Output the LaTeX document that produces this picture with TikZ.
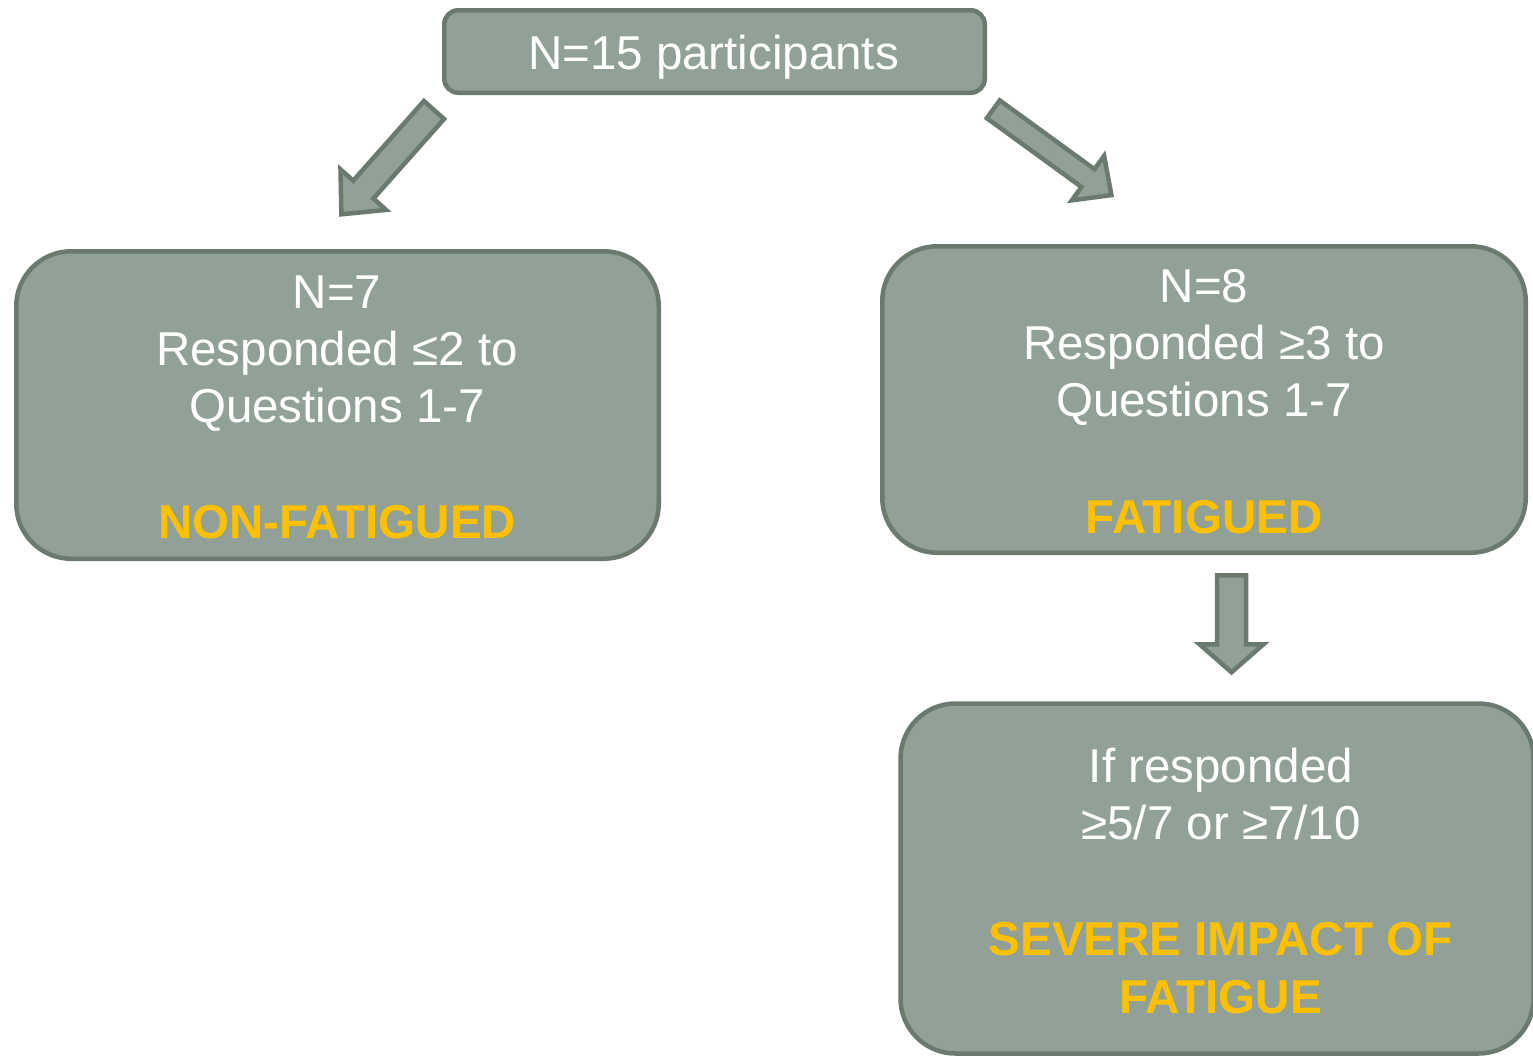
\documentclass[tikz,border=0pt]{standalone}
\usepackage{fontspec}
\setmainfont{Liberation Sans}
\definecolor{boxfill}{HTML}{92A197}
\definecolor{boxline}{HTML}{6B7A6F}
\definecolor{gold}{HTML}{FFC000}
\newcommand{\blockarrow}[6]{%
  \begin{scope}[shift={#1}, rotate=#2]
    \draw[arrowshape] (0,-#4) -- ({#3-#6},-#4) -- ({#3-#6},-#5) -- (#3,0)
      -- ({#3-#6},#5) -- ({#3-#6},#4) -- (0,#4) -- cycle;
  \end{scope}}
\begin{document}
\begin{tikzpicture}[x=1pt,y=-1pt,
  box/.style={draw=boxline, fill=boxfill, line width=4.5pt, rounded corners=#1, inner sep=0pt},
  arrowshape/.style={draw=boxline, fill=boxfill, line width=4.5pt, line join=miter},
  txt/.style={text=white, inner sep=0pt, anchor=base, font=\fontsize{47.5}{57}\selectfont},
  gtxt/.style={text=gold, inner sep=0pt, anchor=base, font=\fontsize{47.5}{57}\selectfont\bfseries}]
\useasboundingbox (0,0) rectangle (1533,1055);
\clip (0,0) rectangle (1533,1055);
% boxes
\node[box=14pt, minimum width=540.5pt, minimum height=82.5pt] (top) at (714.5,51.5) {};
\node[box=55pt, minimum width=642.5pt, minimum height=307.5pt] (left) at (337.5,405) {};
\node[box=55pt, minimum width=643.5pt, minimum height=306.5pt] (right) at (1204,399.5) {};
\node[box=55pt, minimum width=633pt, minimum height=350pt] (bottom) at (1217,878.5) {};
% texts
\node[txt] (t0) at (713.5,69) {N=15 participants};
\node[txt] (l1) at (337,308) {N=7};
\node[txt] (l2) at (337,365) {Responded ≤2 to};
\node[txt] (l3) at (337,422) {Questions 1-7};
\node[gtxt] (l4) at (337,538) {NON-FATIGUED};
\node[txt] (r1) at (1204,302) {N=8};
\node[txt] (r2) at (1204,359) {Responded ≥3 to};
\node[txt] (r3) at (1204,416) {Questions 1-7};
\node[gtxt] (r4) at (1204,533) {FATIGUED};
\node[txt] (b1) at (1221,782) {If responded};
\node[txt] (b2) at (1221,839) {≥5/7 or ≥7/10};
\node[gtxt] (b3) at (1220.5,955) {SEVERE IMPACT OF};
\node[gtxt] (b4) at (1220.5,1013) {FATIGUE};
% block arrows
\blockarrow{(434,110)}{228.4}{139.5}{13.5}{30.5}{33}
\blockarrow{(993.3,109.3)}{-36}{146}{11}{27.5}{29}
\blockarrow{(1231.5,575.25)}{-90}{97}{14.5}{32}{28}
\end{tikzpicture}
\end{document}
